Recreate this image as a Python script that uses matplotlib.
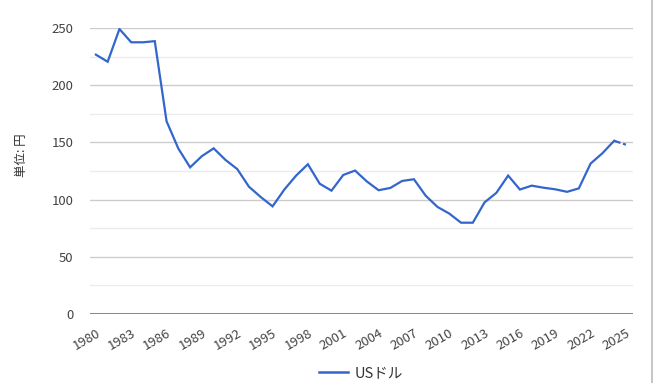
import matplotlib
matplotlib.use('agg')
import matplotlib.pyplot as plt
from matplotlib.lines import Line2D

plt.rcParams['font.family'] = ['Noto Sans CJK JP', 'DejaVu Sans']

# 為替レート (円 / USドル)
years = list(range(1980, 2026))
usd = [226.7, 220.5, 249.1, 237.5, 237.5, 238.5, 168.5, 144.6, 128.2, 138.0,
       144.8, 134.7, 126.7, 111.2, 102.2, 94.1, 108.8, 121.0, 130.9, 113.9,
       107.8, 121.5, 125.4, 115.9, 108.2, 110.2, 116.3, 117.8, 103.4, 93.6,
       87.8, 79.8, 79.8, 97.6, 105.9, 121.0, 108.8, 112.2, 110.4, 109.0,
       106.8, 109.8, 131.5, 140.5, 151.4, 148.0]
xticks = list(range(1980, 2026, 3))
yticks = [0, 50, 100, 150, 200, 250]

color = '#3366cc'
fig = plt.figure(figsize=(6.63, 3.83), dpi=100)
ax = fig.add_axes([90 / 663, 69 / 383, 543 / 663, 286 / 383])

ax.plot(years[:-1], usd[:-1], color=color, lw=1.6, solid_joinstyle='miter')
ax.plot(years[-2:], usd[-2:], color=color, lw=1.6, linestyle=(0, (3, 1.2)))

ax.set_xlim(1979.5, 2025.6)
ax.set_ylim(0, 250)
ax.set_yticks(yticks)
ax.set_yticks([25, 75, 125, 175, 225], minor=True)
ax.set_xticks(xticks)
ax.set_xticklabels([str(y) for y in xticks], rotation=30, ha='right',
                   rotation_mode='anchor')
ax.grid(axis='y', which='major', color='#cccccc', lw=1)
ax.grid(axis='y', which='minor', color='#ebebeb', lw=1)
ax.set_axisbelow(True)
ax.axhline(0, color='#666666', lw=1.8)
for s in ax.spines.values():
    s.set_visible(False)
ax.tick_params(axis='both', which='both', length=0, labelsize=9.5,
               labelcolor='#444444')
ax.tick_params(axis='y', pad=12)
ax.tick_params(axis='x', pad=9)

fig.text(21 / 663, 1 - 155 / 383, '単位: 円', rotation=90, ha='center',
         va='center', fontsize=9, color='#333333')

handle = Line2D([], [], color=color, lw=1.8)
fig.legend([handle], ['USドル'], loc='center', bbox_to_anchor=(361 / 663, 1 - 373 / 383),
           frameon=False, fontsize=10.5, handlelength=2.0, handletextpad=0.4,
           labelcolor='#333333')

fig.add_artist(Line2D([652 / 663, 652 / 663], [0, 1], color='#bbbbbb', lw=1.2))

fig.savefig('out.png', dpi=100)
